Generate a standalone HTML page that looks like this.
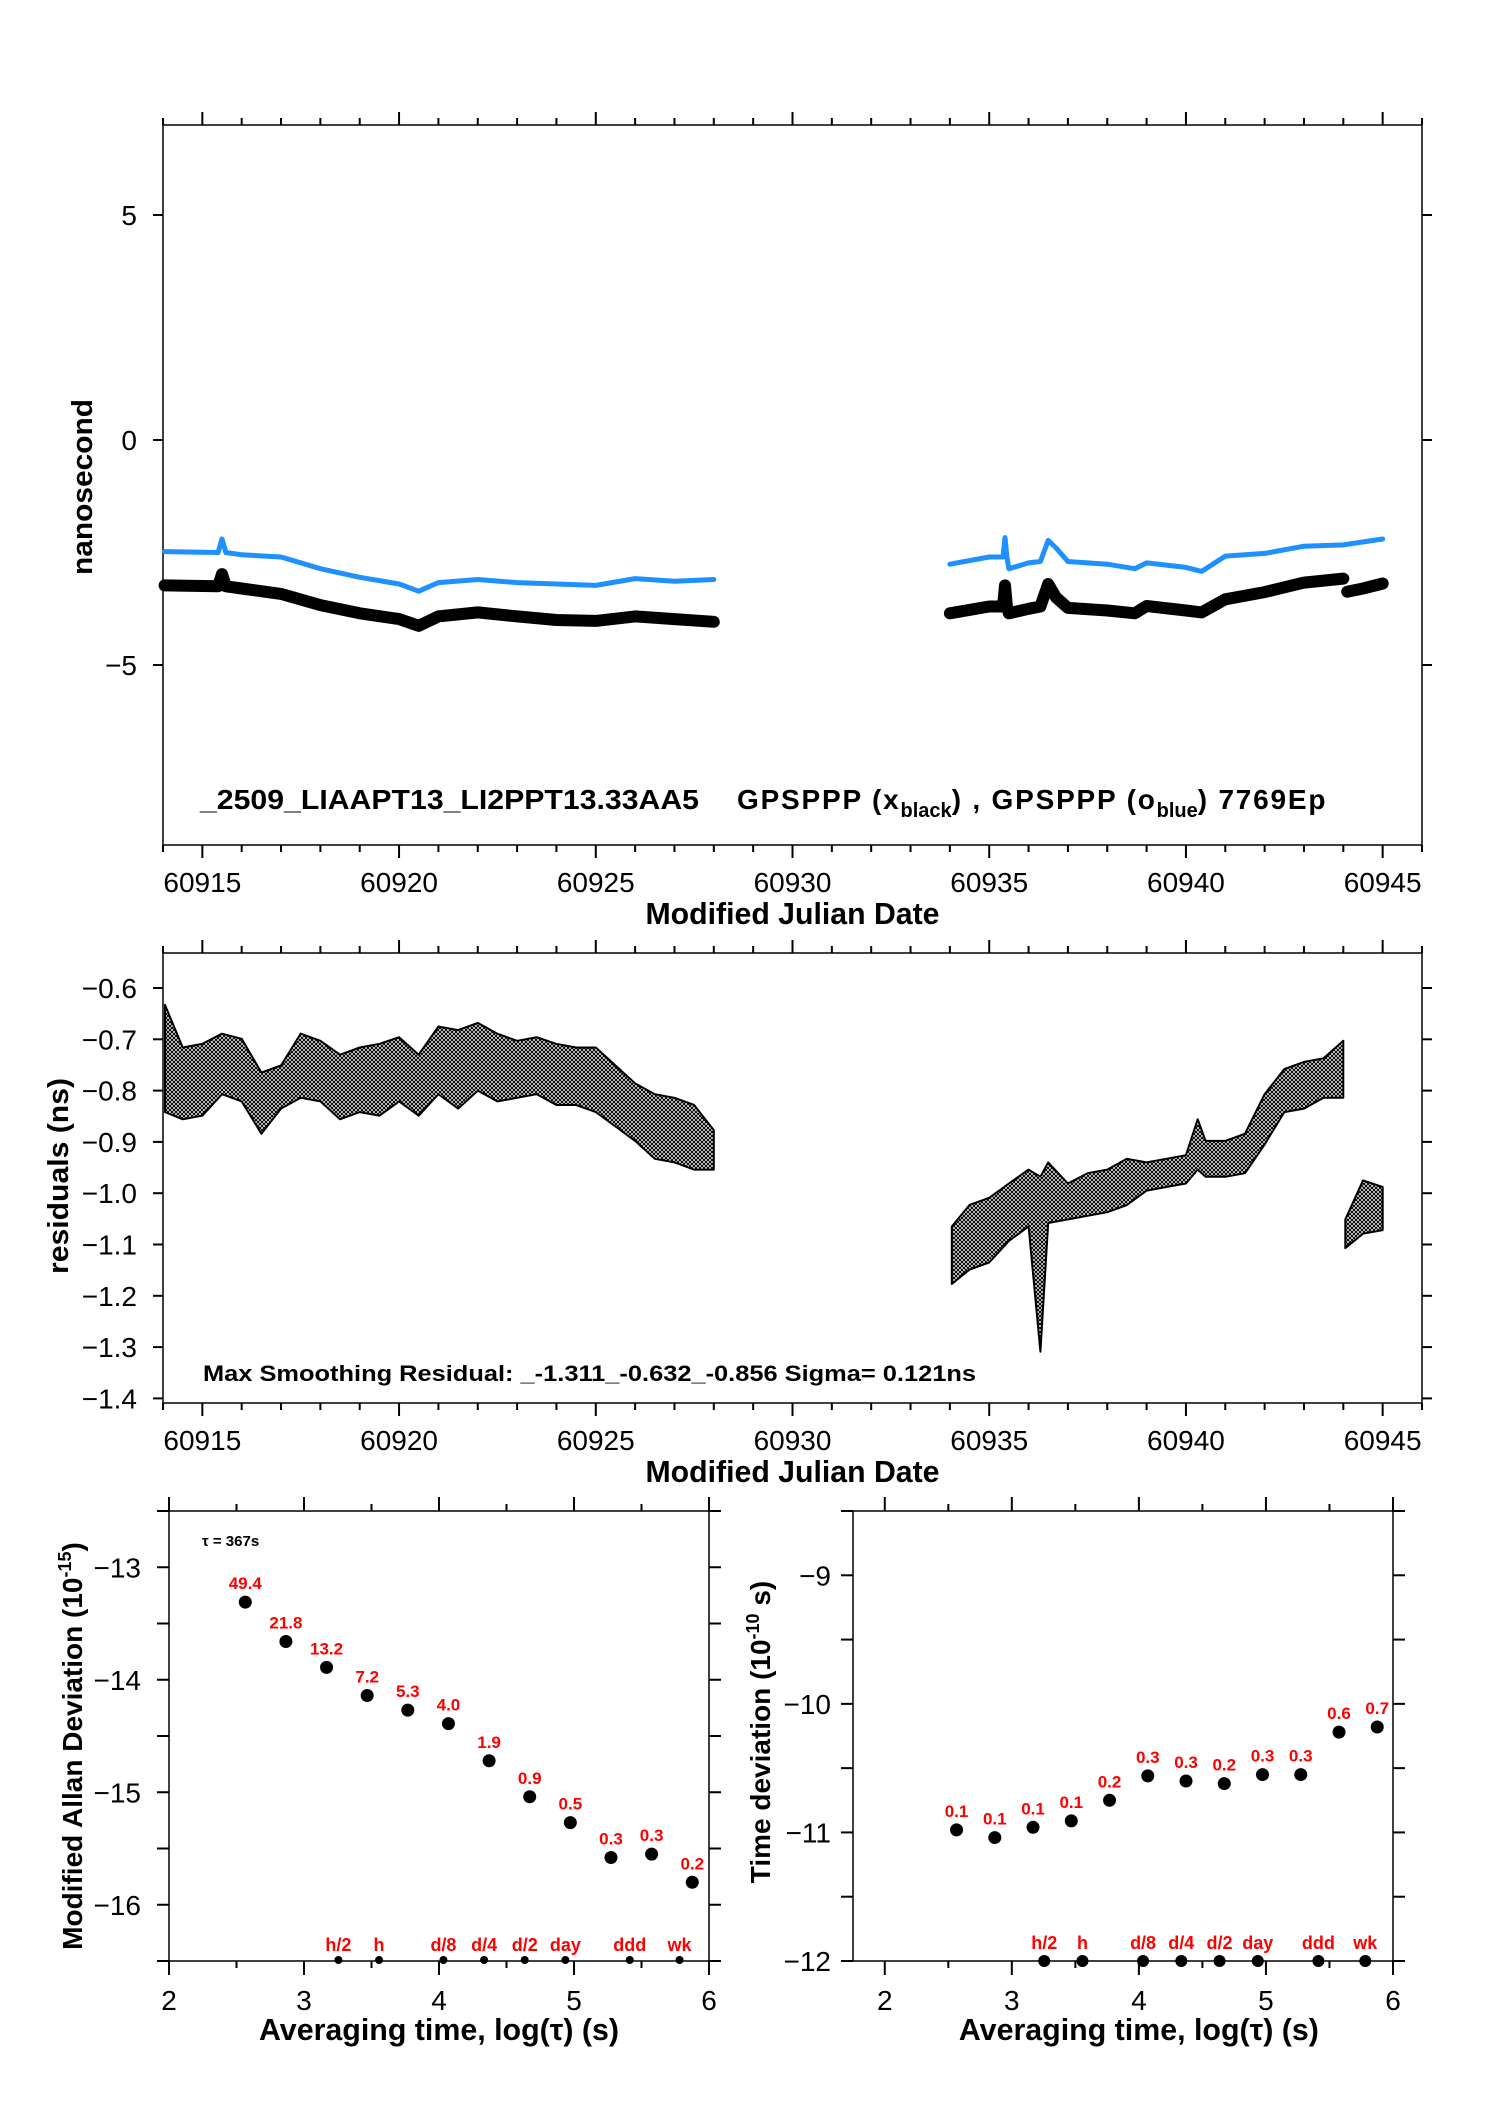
<!DOCTYPE html>
<html><head><meta charset="utf-8"><style>
html,body{margin:0;padding:0;background:#fff}
svg{display:block}
text{font-family:"Liberation Sans",Arial,sans-serif}
</style></head><body>
<svg id="fig" xmlns="http://www.w3.org/2000/svg" width="1488" height="2105" viewBox="0 0 1488 2105">
<defs>
<pattern id="xpat" width="4" height="4" patternUnits="userSpaceOnUse">
<path d="M0,0L4,4M4,0L0,4" stroke="#000" stroke-width="1.1"/>
</pattern>
</defs>
<g id="g1"></g>
<g id="g2"></g>
<g id="g3"></g>
<g id="g4"></g>
</svg>
<script>
// ---- Panel 1 data ----
const blueSeg1Mjd = [60914.04,60915.4,60915.5,60915.6,60916,60917,60918,60919,60920,60920.5,60921,60922,60923,60924,60925,60926,60927,60928];
const blueSeg1Val = [-2.48,-2.5,-2.2,-2.5,-2.55,-2.6,-2.86,-3.05,-3.2,-3.36,-3.17,-3.1,-3.17,-3.2,-3.23,-3.08,-3.14,-3.1];
const blueSeg2Mjd = [60934,60935,60935.35,60935.4,60935.45,60935.5,60936,60936.3,60936.5,60936.7,60937,60938,60938.7,60939,60940,60940.4,60941,60942,60943,60944,60945];
const blueSeg2Val = [-2.76,-2.6,-2.6,-2.17,-2.6,-2.86,-2.73,-2.7,-2.23,-2.4,-2.7,-2.76,-2.86,-2.73,-2.83,-2.92,-2.58,-2.52,-2.36,-2.33,-2.2];
const blackSeg1Mjd = [60914.04,60915.4,60915.5,60915.6,60916,60917,60918,60919,60920,60920.5,60921,60922,60923,60924,60925,60926,60927,60928];
const blackSeg1Val = [-3.23,-3.25,-2.98,-3.25,-3.3,-3.42,-3.67,-3.85,-3.98,-4.13,-3.92,-3.83,-3.92,-4.0,-4.02,-3.92,-3.98,-4.04];
const blackSeg2Mjd = [60934,60935,60935.35,60935.4,60935.45,60935.5,60936,60936.3,60936.5,60936.7,60937,60938,60938.7,60939,60940,60940.4,60941,60942,60943,60944];
const blackSeg2Val = [-3.85,-3.7,-3.7,-3.23,-3.7,-3.85,-3.75,-3.7,-3.2,-3.5,-3.73,-3.79,-3.85,-3.69,-3.79,-3.83,-3.54,-3.38,-3.17,-3.08];
const blackSeg3Mjd = [60944.1,60944.5,60945];
const blackSeg3Val = [-3.37,-3.3,-3.19];
const p1YTicks = [5,0,-5];
const p1YLabels = ["5","0","\u22125"];
const mjdTicks = [60915,60920,60925,60930,60935,60940,60945];
const mjdLabels = ["60915","60920","60925","60930","60935","60940","60945"];

// ---- Panel 2 data (residual envelopes) ----
const resSeg1Mjd = [60914.05,60914.5,60915,60915.5,60916,60916.5,60917,60917.5,60918,60918.5,60919,60919.5,60920,60920.5,60921,60921.5,60922,60922.5,60923,60923.5,60924,60924.5,60925,60925.5,60926,60926.5,60927,60927.5,60928];
const resSeg1Top = [-0.633,-0.716,-0.709,-0.689,-0.699,-0.765,-0.751,-0.689,-0.703,-0.730,-0.716,-0.709,-0.696,-0.730,-0.675,-0.682,-0.668,-0.689,-0.703,-0.696,-0.709,-0.716,-0.716,-0.751,-0.786,-0.807,-0.814,-0.828,-0.877];
const resSeg1Bot = [-0.842,-0.856,-0.849,-0.807,-0.821,-0.884,-0.835,-0.814,-0.821,-0.856,-0.842,-0.849,-0.821,-0.849,-0.807,-0.835,-0.800,-0.821,-0.814,-0.807,-0.828,-0.828,-0.842,-0.870,-0.898,-0.933,-0.940,-0.954,-0.954];
const resSeg2Mjd = [60934.05,60934.5,60935,60935.5,60936,60936.3,60936.5,60937,60937.5,60938,60938.5,60939,60939.5,60940,60940.3,60940.5,60941,60941.5,60942,60942.5,60943,60943.5,60944];
const resSeg2Top = [-1.065,-1.023,-1.009,-0.981,-0.954,-0.968,-0.940,-0.981,-0.961,-0.954,-0.933,-0.940,-0.933,-0.926,-0.856,-0.898,-0.898,-0.884,-0.807,-0.758,-0.744,-0.737,-0.703];
const resSeg2Bot = [-1.177,-1.149,-1.135,-1.093,-1.065,-1.309,-1.058,-1.051,-1.044,-1.037,-1.023,-0.995,-0.988,-0.981,-0.954,-0.968,-0.968,-0.961,-0.905,-0.842,-0.835,-0.814,-0.814];
const resSeg3Mjd = [60944.05,60944.5,60945];
const resSeg3Top = [-1.051,-0.975,-0.988];
const resSeg3Bot = [-1.107,-1.079,-1.072];
const resYTicks = [-0.6,-0.7,-0.8,-0.9,-1.0,-1.1,-1.2,-1.3,-1.4];
const resYLabels = ["\u22120.6","\u22120.7","\u22120.8","\u22120.9","\u22121.0","\u22121.1","\u22121.2","\u22121.3","\u22121.4"];

// ---- Panel 3 data (MDEV) ----
const mdevLogTau = [2.565,2.866,3.167,3.468,3.769,4.070,4.371,4.672,4.973,5.274,5.575,5.876];
const mdevVal = [-13.31,-13.66,-13.89,-14.14,-14.27,-14.39,-14.72,-15.04,-15.27,-15.58,-15.55,-15.80];
const mdevLabels = ["49.4","21.8","13.2","7.2","5.3","4.0","1.9","0.9","0.5","0.3","0.3","0.2"];
const mdevYTicks = [-13,-14,-15,-16];
const mdevYLabels = ["\u221213","\u221214","\u221215","\u221216"];
// ---- Panel 4 data (TDEV) ----
const tdevLogTau = [2.565,2.866,3.167,3.468,3.769,4.070,4.371,4.672,4.973,5.274,5.575,5.876];
const tdevVal = [-10.98,-11.04,-10.96,-10.91,-10.75,-10.56,-10.60,-10.62,-10.55,-10.55,-10.22,-10.18];
const tdevLabels = ["0.1","0.1","0.1","0.1","0.2","0.3","0.3","0.2","0.3","0.3","0.6","0.7"];
const tdevYTicks = [-9,-10,-11,-12];
const tdevYLabels = ["\u22129","\u221210","\u221211","\u221212"];
// ---- Shared marker data ----
const markLogTau = [3.255,3.556,4.033,4.334,4.635,4.936,5.413,5.782];
const markLabels = ["h/2","h","d/8","d/4","d/2","day","ddd","wk"];
const logTicks = [2,3,4,5,6];
const logLabels = ["2","3","4","5","6"];

const NS="http://www.w3.org/2000/svg";
function mk(parent,tag,attrs,txt){const e=document.createElementNS(NS,tag);for(const k in attrs)e.setAttribute(k,attrs[k]);if(txt!==undefined)e.textContent=txt;parent.appendChild(e);return e;}

// ========== Panel 1 ==========
(function(){
const g=document.getElementById('g1');
const L=163,R=1422,T=125,B=845;
const x=m=>L+(m-60914)*(R-L)/32;
const y=v=>T+(7-v)*(B-T)/16;
let e=mk(g,'rect',{x:L,y:T,width:R-L,height:B-T,fill:'none',stroke:'#000','stroke-width':1.5});


for(let d=60914;d<=60946;d++){const maj=d%5===0;const len=maj?13:7;
 e=mk(g,'line',{x1:x(d),x2:x(d),y1:T,y2:T-len,stroke:'#000','stroke-width':2});
 
 
 e=mk(g,'line',{x1:x(d),x2:x(d),y1:B,y2:B+len,stroke:'#000','stroke-width':2});
 
 }
mjdTicks.forEach((m,i)=>{e=mk(g,'text',{x:x(m),y:892,'font-size':28,'text-anchor':'middle'},mjdLabels[i]);
 
 });
p1YTicks.forEach((v,i)=>{
 e=mk(g,'line',{x1:L-10,x2:L,y1:y(v),y2:y(v),stroke:'#000','stroke-width':2});
 
 
 e=mk(g,'line',{x1:R,x2:R+10,y1:y(v),y2:y(v),stroke:'#000','stroke-width':2});
 
 
 e=mk(g,'text',{x:137,y:y(v)+10,'font-size':28,'text-anchor':'end'},p1YLabels[i]);
 
 });
e=mk(g,'text',{x:(L+R)/2,y:924,'font-size':31,'font-weight':'bold','text-anchor':'middle',textLength:294,lengthAdjust:'spacingAndGlyphs'},'Modified Julian Date');


e=mk(g,'text',{x:0,y:0,'font-size':29,'font-weight':'bold','text-anchor':'middle',transform:'translate(92,487) rotate(-90)',textLength:176,lengthAdjust:'spacingAndGlyphs'},'nanosecond');


function line(ms,vs,col,w,name){const pts=ms.map((m,i)=>x(m).toFixed(1)+','+y(vs[i]).toFixed(1)).join(' ');
 const p=mk(g,'polyline',{points:pts,fill:'none',stroke:col,'stroke-width':w,'stroke-linejoin':'round','stroke-linecap':'round'});
 
 }
line(blackSeg1Mjd,blackSeg1Val,'#000',12,'black-series-seg1');
line(blackSeg2Mjd,blackSeg2Val,'#000',12,'black-series-seg2');
line(blackSeg3Mjd,blackSeg3Val,'#000',12,'black-series-seg3');
line(blueSeg1Mjd,blueSeg1Val,'#1E90FF',5,'blue-series-seg1');
line(blueSeg2Mjd,blueSeg2Val,'#1E90FF',5,'blue-series-seg2');
const t=mk(g,'text',{x:200,y:809,'font-size':28,'font-weight':'bold','xml:space':'preserve'});


t.innerHTML='<tspan textLength="499" lengthAdjust="spacingAndGlyphs">_2509_LIAAPT13_LI2PPT13.33AA5</tspan><tspan x="737" letter-spacing="1.8">GPSPPP (x</tspan><tspan font-size="20" dy="8">black</tspan><tspan dy="-8" letter-spacing="1.8">) ,  GPSPPP (o</tspan><tspan font-size="20" dy="8">blue</tspan><tspan dy="-8" letter-spacing="1.8">)  7769Ep</tspan>';
})();

// ========== Panel 2 ==========
(function(){
const g=document.getElementById('g2');
const L=163,R=1422,T=953,B=1403;
const x=m=>L+(m-60914)*(R-L)/32;
const y=v=>988+(-0.6-v)*513;
let e=mk(g,'rect',{x:L,y:T,width:R-L,height:B-T,fill:'none',stroke:'#000','stroke-width':1.5});


for(let d=60914;d<=60946;d++){const maj=d%5===0;const len=maj?13:7;
 e=mk(g,'line',{x1:x(d),x2:x(d),y1:T,y2:T-len,stroke:'#000','stroke-width':2});
 
 
 e=mk(g,'line',{x1:x(d),x2:x(d),y1:B,y2:B+len,stroke:'#000','stroke-width':2});
 
 }
mjdTicks.forEach((m,i)=>{e=mk(g,'text',{x:x(m),y:1450,'font-size':28,'text-anchor':'middle'},mjdLabels[i]);
 
 });
resYTicks.forEach((v,i)=>{
 e=mk(g,'line',{x1:L-10,x2:L,y1:y(v),y2:y(v),stroke:'#000','stroke-width':2});
 
 
 e=mk(g,'line',{x1:R,x2:R+10,y1:y(v),y2:y(v),stroke:'#000','stroke-width':2});
 
 
 e=mk(g,'text',{x:137,y:y(v)+10,'font-size':28,'text-anchor':'end'},resYLabels[i]);
 
 });
e=mk(g,'text',{x:(L+R)/2,y:1482,'font-size':31,'font-weight':'bold','text-anchor':'middle',textLength:294,lengthAdjust:'spacingAndGlyphs'},'Modified Julian Date');


e=mk(g,'text',{x:0,y:0,'font-size':29,'font-weight':'bold','text-anchor':'middle',transform:'translate(68,1176) rotate(-90)',textLength:196,lengthAdjust:'spacingAndGlyphs'},'residuals (ns)');


function band(ms,tp,bt,name){const a=ms.map((m,i)=>x(m).toFixed(1)+','+y(tp[i]).toFixed(1));
 const b=ms.map((m,i)=>x(m).toFixed(1)+','+y(bt[i]).toFixed(1)).reverse();
 const p=mk(g,'polygon',{points:a.concat(b).join(' '),fill:'url(#xpat)',stroke:'#000','stroke-width':2,'stroke-linejoin':'round'});
 
 }
band(resSeg1Mjd,resSeg1Top,resSeg1Bot,'residual-band-seg1');
band(resSeg2Mjd,resSeg2Top,resSeg2Bot,'residual-band-seg2');
band(resSeg3Mjd,resSeg3Top,resSeg3Bot,'residual-band-seg3');
e=mk(g,'text',{x:203,y:1381,'font-size':22,'font-weight':'bold',textLength:773,lengthAdjust:'spacingAndGlyphs','xml:space':'preserve'},'Max Smoothing Residual: _-1.311_-0.632_-0.856  Sigma= 0.121ns');


})();

// ========== Panels 3 & 4 ==========
function devPanel(gid,L,R,xmin,xmax,ymin,ymax,xs,vs,labs,yt,yl,ylabX,title,titleX,titleY,bigMarks){
const g=document.getElementById(gid);
const T=1511,B=1961;
const x=v=>L+(v-xmin)*(R-L)/(xmax-xmin);
const y=v=>T+(ymax-v)*(B-T)/(ymax-ymin);
let e=mk(g,'rect',{x:L,y:T,width:R-L,height:B-T,fill:'none',stroke:'#000','stroke-width':1.5});


for(let k=2;k<=6.001;k+=0.5){const maj=Math.abs(k-Math.round(k))<0.01;const len=maj?14:7;
 e=mk(g,'line',{x1:x(k),x2:x(k),y1:T,y2:T-len,stroke:'#000','stroke-width':2});
 
 
 e=mk(g,'line',{x1:x(k),x2:x(k),y1:B,y2:B+len,stroke:'#000','stroke-width':2});
 
 }
logTicks.forEach((v,i)=>{e=mk(g,'text',{x:x(v),y:2010,'font-size':28,'text-anchor':'middle'},logLabels[i]);
 
 });
for(let v=Math.ceil(ymin*2)/2;v<=ymax+0.001;v+=0.5){
 e=mk(g,'line',{x1:L-12,x2:L,y1:y(v),y2:y(v),stroke:'#000','stroke-width':2});
 
 
 e=mk(g,'line',{x1:R,x2:R+12,y1:y(v),y2:y(v),stroke:'#000','stroke-width':2});
 
 }
yt.forEach((v,i)=>{e=mk(g,'text',{x:ylabX,y:y(v)+10,'font-size':28,'text-anchor':'end'},yl[i]);
 
 });
e=mk(g,'text',{x:(x(2)+x(6))/2,y:2040,'font-size':31,'font-weight':'bold','text-anchor':'middle',textLength:360,lengthAdjust:'spacingAndGlyphs'},'Averaging time, log(\u03c4) (s)');


e=mk(g,'text',{x:0,y:0,'font-size':28,'font-weight':'bold','text-anchor':'middle',transform:'translate('+titleX+','+titleY+') rotate(-90)'});


e.innerHTML=title;
xs.forEach((v,i)=>{
 e=mk(g,'circle',{cx:x(v),cy:y(vs[i]),r:6.5,fill:'#000'});
 
 
 e=mk(g,'text',{x:x(v),y:y(vs[i])-13,'font-size':17,'font-weight':'bold',fill:'#f00','text-anchor':'middle'},labs[i]);
 
 });
markLogTau.forEach((v,i)=>{
 e=mk(g,'circle',{cx:x(v),cy:B-(bigMarks?0:1),r:bigMarks?6:4,fill:'#000'});
 
 
 e=mk(g,'text',{x:x(v),y:B-(bigMarks?12:10),'font-size':18,'font-weight':'bold',fill:'#f00','text-anchor':'middle'},markLabels[i]);
 
 });
return g;}
const g3=devPanel('g3',169,709,2,6,-16.5,-12.5,mdevLogTau,mdevVal,mdevLabels,mdevYTicks,mdevYLabels,141,
 '<tspan>Modified Allan Deviation (10</tspan><tspan font-size="18" dy="-11">-15</tspan><tspan dy="11">)</tspan>',82,1746,false);
const tt=mk(g3,'text',{x:202,y:1546,'font-size':15,'font-weight':'bold'},'\u03c4 = 367s');


devPanel('g4',853,1393,1.75,6,-12,-8.5,tdevLogTau,tdevVal,tdevLabels,tdevYTicks,tdevYLabels,831,
 '<tspan>Time deviation (10</tspan><tspan font-size="18" dy="-11">-10</tspan><tspan dy="11"> s)</tspan>',770,1732,true);
</script>
</body></html>
